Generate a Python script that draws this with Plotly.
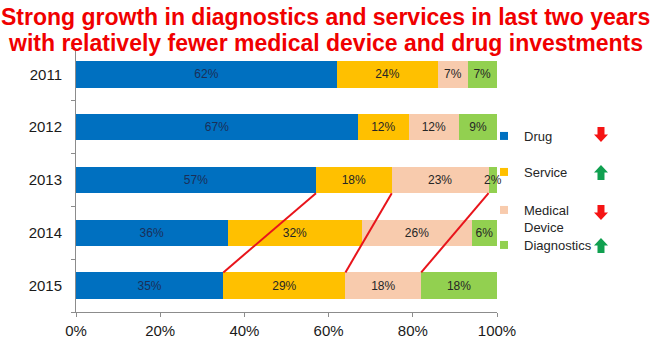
import plotly.graph_objects as go
import numpy as np

years = ["2011", "2012", "2013", "2014", "2015"]
drug = [62, 67, 57, 36, 35]
service = [24, 12, 18, 32, 29]
device = [7, 12, 23, 26, 18]
diagnostics = [7, 9, 2, 6, 18]

series_names = ["Drug", "Service", "Medical<br>Device", "Diagnostics"]
series_vals = [drug, service, device, diagnostics]
colors = ["#0070C0", "#FFC000", "#F8CBAD", "#92D050"]
label_colors = ["#1B2F58", "#262626", "#262626", "#262626"]
trend = ["down", "up", "down", "up"]

x_ticks = [0, 20, 40, 60, 80, 100]
x_tick_labels = ["0%", "20%", "40%", "60%", "80%", "100%"]

title_lines = ["Strong growth in diagnostics and services in last two years",
               "with relatively fewer medical device and drug investments"]

FONT = "Liberation Sans, Arial, sans-serif"
W, H = 650, 342
ML, MR, MT, MB = 76, 153, 48, 30
PW, PH = W - ML - MR, H - MT - MB


def px2paper(px, py):
    return (px - ML) / PW, (H - MB - py) / PH


ypos = list(range(len(years)))
bar_w = 0.5

fig = go.Figure()
for i, (name, vals, col) in enumerate(zip(series_names, series_vals, colors)):
    fig.add_trace(go.Bar(
        y=ypos, x=vals, orientation="h", name=name,
        marker=dict(color=col, line=dict(width=0)),
        width=bar_w,
        text=[f"{v}%" for v in vals], textposition="inside", textangle=0,
        insidetextanchor="middle", constraintext="none", cliponaxis=False,
        textfont=dict(family=FONT, size=12, color=label_colors[i]),
        showlegend=False, hoverinfo="skip",
    ))

# red connector lines between 2013 and 2015 cumulative boundaries
cum = np.cumsum(np.array(series_vals), axis=0)
i13, i15 = years.index("2013"), years.index("2015")
for k in range(len(series_vals)):
    if k < len(series_vals) - 1:
        xs = [cum[k][i13], cum[k][i15]]
        ys = [i13 + bar_w / 2, i15 - bar_w / 2]
    else:
        xs = [cum[k][i13] + 0.4, cum[k][i15] + 0.4]
        ys = [i13, i15 - bar_w / 2]
    fig.add_trace(go.Scatter(x=xs, y=ys, mode="lines",
                             line=dict(color="#E8141B", width=2),
                             showlegend=False, hoverinfo="skip", cliponaxis=False))

# legend entries, each in its own legend for exact placement
legend_py = [136, 172, 195, 245]
legend_layout = {}
for i, (name, col) in enumerate(zip(series_names, colors)):
    key = "legend" if i == 0 else f"legend{i + 1}"
    fig.add_trace(go.Scatter(
        x=[None], y=[None], mode="markers", name=name,
        marker=dict(symbol="square", size=8, color=col),
        legend=key, showlegend=True, hoverinfo="skip",
    ))
    two = "<br>" in name
    lx, ly = px2paper(484, legend_py[i])
    legend_layout[key] = dict(
        x=lx, xanchor="left", y=ly, yanchor="top" if two else "middle",
        valign="top" if two else "middle",
        font=dict(family=FONT, size=13, color="#262626"),
        bgcolor="rgba(0,0,0,0)", itemclick=False, itemdoubleclick=False,
    )

# trend arrows drawn as block-arrow shapes
arrow_py = [134.5, 172.5, 212.5, 245.5]
shapes = []
for t, cy in zip(trend, arrow_py):
    cx = 601
    s = 1 if t == "down" else -1
    pts = [(cx - 3.5, cy - 7.5 * s), (cx + 3.5, cy - 7.5 * s), (cx + 3.5, cy),
           (cx + 7, cy), (cx, cy + 7.5 * s), (cx - 7, cy), (cx - 3.5, cy)]
    pp = [px2paper(a, b) for a, b in pts]
    path = "M " + " L ".join(f"{a:.4f},{b:.4f}" for a, b in pp) + " Z"
    col = "#F51414" if t == "down" else "#10A050"
    shapes.append(dict(type="path", xref="paper", yref="paper", path=path,
                       fillcolor=col, line=dict(width=0)))

annotations = []
for line, py in zip(title_lines, [17, 43]):
    ax, ay = px2paper(W / 2, py)
    annotations.append(dict(
        xref="paper", yref="paper", x=ax, y=ay, xanchor="center", yanchor="middle",
        text=f"<b>{line}</b>", showarrow=False,
        font=dict(family=FONT, size=23, color="#F00000"),
    ))

fig.update_layout(
    width=W, height=H,
    margin=dict(l=ML, r=MR, t=MT, b=MB, autoexpand=False),
    paper_bgcolor="white", plot_bgcolor="white",
    barmode="stack",
    shapes=shapes, annotations=annotations,
    showlegend=True,
    xaxis=dict(
        range=[0, 100], tickvals=x_ticks, ticktext=x_tick_labels,
        showgrid=False, zeroline=False, automargin=False,
        showline=True, linecolor="#8C8C8C", linewidth=1,
        ticks="outside", ticklen=4, tickcolor="#8C8C8C",
        ticklabelstandoff=1,
        tickfont=dict(family=FONT, size=15, color="#1a1a1a"),
    ),
    yaxis=dict(
        range=[len(years) - 0.5, -0.5],
        tickvals=ypos, ticktext=years,
        showgrid=False, zeroline=False, automargin=False,
        showline=True, linecolor="#8C8C8C", linewidth=1,
        ticks="", ticklabelstandoff=10,
        minor=dict(tick0=-0.5, dtick=1, ticks="outside", ticklen=4,
                   tickcolor="#8C8C8C", showgrid=False),
        tickfont=dict(family=FONT, size=15, color="#1a1a1a"),
    ),
    **legend_layout,
)

fig.write_html("out.html")
